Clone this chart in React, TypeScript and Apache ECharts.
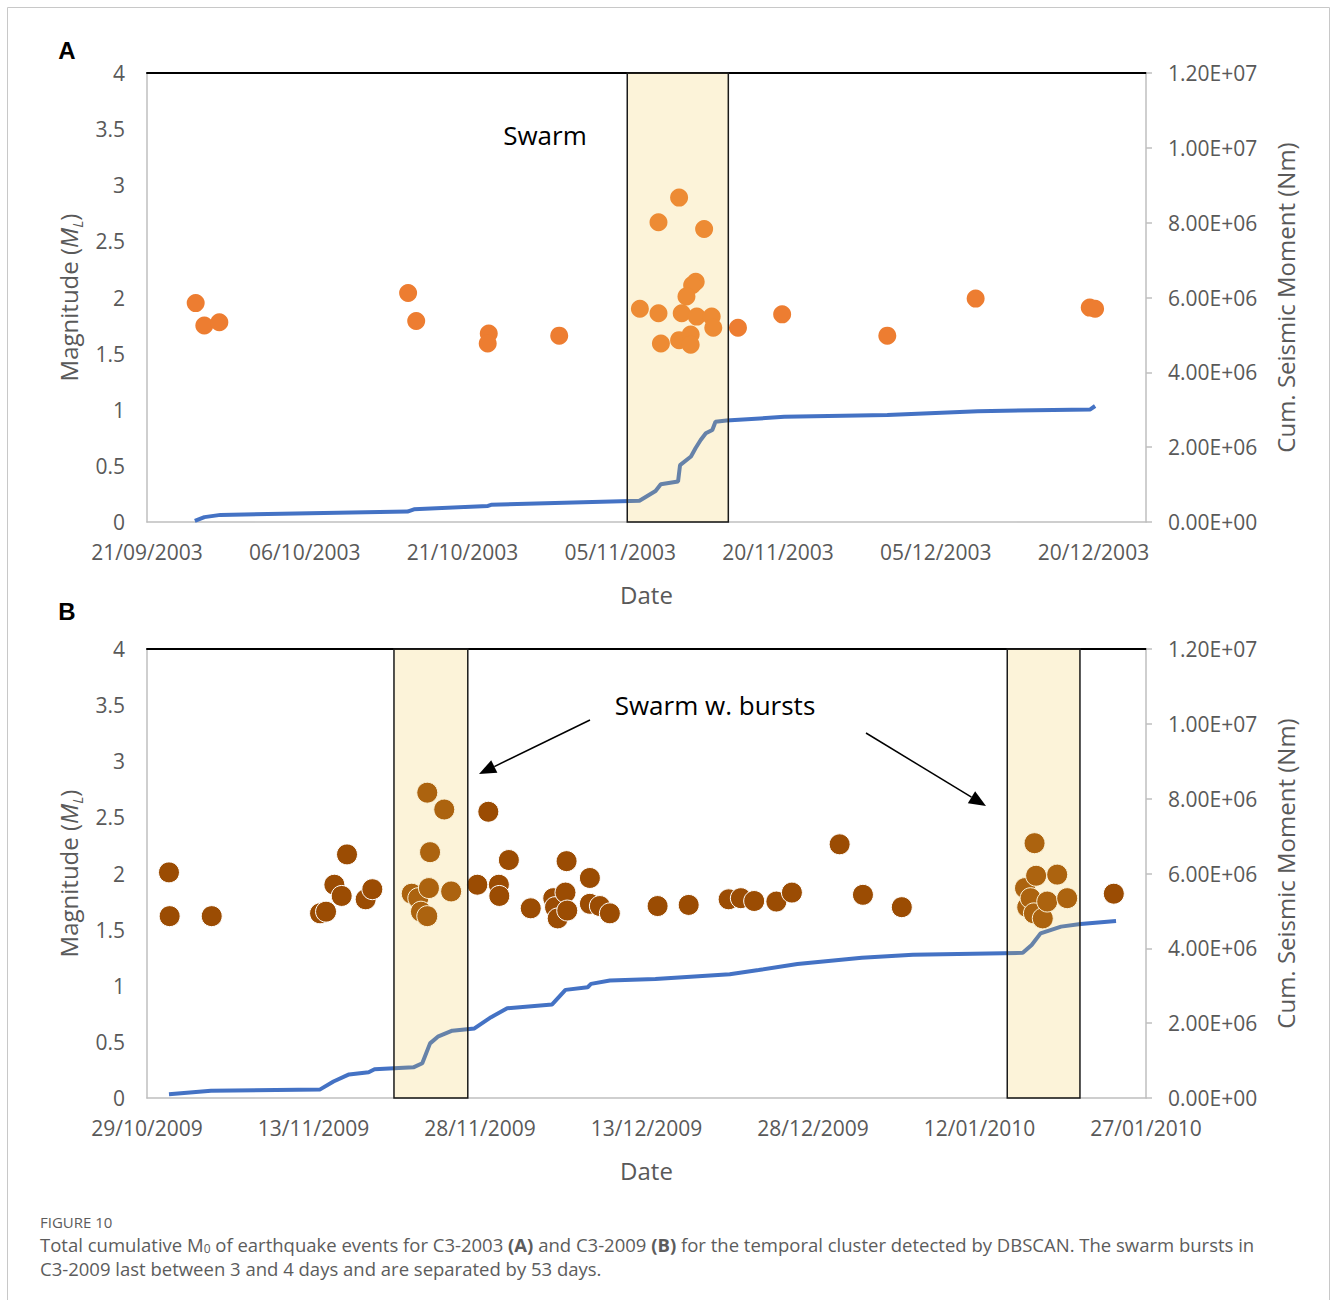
import React, { useEffect, useRef } from 'react';
import * as echarts from 'echarts';

// ---------- Panel A (C3-2003): days since 21/09/2003 ----------
const aStartUTC = Date.UTC(2003, 8, 21);
const aAxisMaxDays = 95;
const aEventDays = [4.63, 5.45, 6.88, 24.83, 25.6, 32.5, 32.4, 39.2, 46.87, 50.6, 48.64, 52.98, 52.18, 51.84, 51.3, 48.64, 50.85, 52.28, 53.7, 53.85, 48.87, 50.6, 51.7, 51.7, 56.2, 60.4, 70.4, 78.8, 89.65, 90.16];
const aEventMag = [1.95, 1.75, 1.78, 2.04, 1.79, 1.68, 1.59, 1.66, 1.9, 2.89, 2.67, 2.61, 2.14, 2.11, 2.01, 1.86, 1.86, 1.83, 1.83, 1.73, 1.59, 1.62, 1.67, 1.58, 1.73, 1.85, 1.66, 1.99, 1.91, 1.9];
const aCumDays = [4.55, 5.46, 6.99, 24.77, 25.39, 32.42, 32.72, 46.83, 48.36, 48.86, 50.5, 50.69, 51.73, 52.16, 52.65, 53.14, 53.76, 54.06, 55.1, 60.6, 70.4, 79.0, 89.7, 90.16];
const aCumMoment = [0.03e6, 0.13e6, 0.19e6, 0.28e6, 0.34e6, 0.43e6, 0.46e6, 0.57e6, 0.83e6, 1.01e6, 1.08e6, 1.52e6, 1.75e6, 1.97e6, 2.19e6, 2.37e6, 2.46e6, 2.68e6, 2.71e6, 2.81e6, 2.86e6, 2.96e6, 3.01e6, 3.1e6];
const aSwarmWindows = [[45.67, 55.28]];

// ---------- Panel B (C3-2009): days since 29/10/2009 ----------
const bStartUTC = Date.UTC(2009, 9, 29);
const bAxisMaxDays = 90;
const bEventDays = [1.98, 2.04, 5.83, 15.59, 16.13, 16.88, 17.54, 18.02, 19.7, 20.3, 23.85, 24.44, 24.68, 25.25, 25.4, 25.25, 25.5, 26.78, 27.4, 29.76, 30.75, 31.7, 31.74, 32.6, 34.57, 36.6, 36.76, 37.0, 37.7, 37.8, 37.86, 39.9, 39.9, 40.8, 41.7, 46.0, 48.8, 52.4, 53.5, 54.7, 56.7, 58.1, 62.4, 64.5, 68.0, 79.1, 79.3, 79.6, 79.9, 79.96, 80.1, 80.7, 81.1, 82.0, 82.9, 87.1];
const bEventMag = [2.01, 1.62, 1.62, 1.645, 1.66, 1.9, 1.8, 2.17, 1.77, 1.86, 1.82, 1.78, 1.66, 1.62, 1.87, 2.72, 2.19, 2.57, 1.84, 1.9, 2.55, 1.9, 1.8, 2.12, 1.69, 1.78, 1.7, 1.6, 1.83, 2.11, 1.67, 1.96, 1.73, 1.71, 1.645, 1.71, 1.72, 1.77, 1.78, 1.755, 1.75, 1.83, 2.26, 1.81, 1.7, 1.87, 1.7, 1.78, 1.645, 2.27, 1.98, 1.6, 1.75, 1.99, 1.78, 1.82];
const bCumDays = [1.98, 5.76, 15.6, 16.8, 18.2, 19.97, 20.5, 24.0, 24.8, 25.5, 26.2, 27.5, 29.5, 31.0, 32.45, 36.5, 37.7, 39.7, 40.0, 41.7, 45.8, 52.5, 55.1, 58.6, 64.4, 69.0, 78.9, 79.7, 80.5, 82.35, 84.1, 87.3];
const bCumMoment = [0.1e6, 0.195e6, 0.23e6, 0.44e6, 0.63e6, 0.69e6, 0.77e6, 0.82e6, 0.93e6, 1.46e6, 1.64e6, 1.8e6, 1.86e6, 2.16e6, 2.4e6, 2.5e6, 2.89e6, 2.96e6, 3.05e6, 3.14e6, 3.18e6, 3.31e6, 3.42e6, 3.58e6, 3.75e6, 3.83e6, 3.88e6, 4.09e6, 4.4e6, 4.58e6, 4.65e6, 4.73e6];
const bSwarmWindows = [[22.25, 28.9], [77.5, 84.05]];

// ---------- Axis ticks ----------
const magMin = 0;
const magMax = 4;
const magInterval = 0.5;
const momentMin = 0;
const momentMax = 1.2e7;
const momentInterval = 2e6;
const dateInterval = 15;

const FONT = "'Open Sans', 'Noto Sans', sans-serif";
const GREY = '#595959';
const AXIS_GREY = '#bfbfbf';
const TICK_FS = 21;
const NAME_FS = 24;

const pad2 = (n: number) => String(n).padStart(2, '0');
const dateFormatter = (base: number) => (v: number) => {
  if (Math.abs(v % dateInterval) > 1e-6) return '';
  const d = new Date(base + Math.round(v) * 86400000);
  return `${pad2(d.getUTCDate())}/${pad2(d.getUTCMonth() + 1)}/${d.getUTCFullYear()}`;
};
const expFormatter = (v: number) => {
  const [m, e] = v.toExponential(2).split('e');
  const sign = e[0] === '-' ? '-' : '+';
  const num = e.replace(/[+-]/, '').padStart(2, '0');
  return `${m}E${sign}${num}`;
};

const zip = (xs: number[], ys: number[]) => xs.map((x, i) => [x, ys[i]]);

function arrow(x1: number, y1: number, x2: number, y2: number) {
  const len = Math.hypot(x2 - x1, y2 - y1);
  const ux = (x2 - x1) / len;
  const uy = (y2 - y1) / len;
  const head = 17;
  const half = 7;
  const bx = x2 - ux * head;
  const by = y2 - uy * head;
  return [
    { type: 'line', shape: { x1, y1, x2: bx, y2: by }, style: { stroke: '#000', lineWidth: 1.5 } },
    {
      type: 'polygon',
      shape: { points: [[x2, y2], [bx - uy * half, by + ux * half], [bx + uy * half, by - ux * half]] },
      style: { fill: '#000' },
    },
  ];
}

export default function App() {
  const ref = useRef<HTMLDivElement>(null);
  useEffect(() => {
    document.body.style.margin = '0';
    if (!ref.current) return;
    const chart = echarts.init(ref.current, undefined, { renderer: 'svg' });

    const xBottom = (grid: number, max: number, base: number) => ({
      type: 'value',
      gridIndex: grid,
      position: 'bottom',
      min: 0,
      max,
      interval: dateInterval,
      axisLine: { show: true, onZero: false, lineStyle: { color: AXIS_GREY, width: 1.5 } },
      axisTick: { show: false },
      splitLine: { show: false },
      axisLabel: { formatter: dateFormatter(base), color: GREY, fontSize: TICK_FS, fontFamily: FONT, margin: 19 },
      name: 'Date',
      nameLocation: 'middle',
      nameGap: 60,
      nameTextStyle: { color: GREY, fontSize: NAME_FS, fontFamily: FONT },
    });
    const xTop = (grid: number, max: number) => ({
      type: 'value',
      gridIndex: grid,
      position: 'top',
      min: 0,
      max,
      axisLine: { show: true, onZero: false, lineStyle: { color: '#000', width: 2 } },
      axisTick: { show: false },
      axisLabel: { show: false },
      splitLine: { show: false },
    });
    const magRich = {
      t: { fontSize: NAME_FS, color: GREY, fontFamily: FONT, lineHeight: 32 },
      i: { fontSize: NAME_FS, color: GREY, fontFamily: FONT, fontStyle: 'italic', lineHeight: 32 },
      s: { fontSize: 15, color: GREY, fontFamily: FONT, fontStyle: 'italic', lineHeight: 11, verticalAlign: 'bottom' },
    };
    const yLeft = (grid: number) => ({
      type: 'value',
      gridIndex: grid,
      position: 'left',
      min: magMin,
      max: magMax,
      interval: magInterval,
      axisLine: { show: true, onZero: false, lineStyle: { color: AXIS_GREY, width: 1.5 } },
      axisTick: { show: false },
      splitLine: { show: false },
      axisLabel: { color: GREY, fontSize: TICK_FS, fontFamily: FONT, margin: 22 },
      name: '{t|Magnitude (}{i|M}{s|L}{t|)}',
      nameLocation: 'middle',
      nameRotate: 90,
      nameGap: 63,
      nameTextStyle: { fontSize: NAME_FS, color: GREY, fontFamily: FONT, rich: magRich },
    });
    const yRight = (grid: number) => ({
      type: 'value',
      gridIndex: grid,
      position: 'right',
      min: momentMin,
      max: momentMax,
      interval: momentInterval,
      axisLine: { show: true, onZero: false, lineStyle: { color: AXIS_GREY, width: 1.5 } },
      axisTick: { show: true, inside: false, length: 6, lineStyle: { color: AXIS_GREY, width: 1.5 } },
      splitLine: { show: false },
      axisLabel: { formatter: expFormatter, color: GREY, fontSize: TICK_FS, fontFamily: FONT, margin: 22 },
      name: 'Cum. Seismic Moment (Nm)',
      nameLocation: 'middle',
      nameRotate: 90,
      nameGap: 127,
      nameTextStyle: { fontSize: NAME_FS, color: GREY, fontFamily: FONT },
    });
    const swarmArea = (windows: number[][]) => ({
      silent: true,
      z: 5,
      itemStyle: { color: 'rgba(240,195,65,0.2)', borderColor: '#1a1a1a', borderWidth: 1.5 },
      label: { show: false },
      data: windows.map(([a, b]) => [{ xAxis: a }, { xAxis: b }]),
    });

    const CAP_FONT = "'Open Sans', 'Noto Sans', sans-serif";
    const CAP_FS = 18.5;
    const captionRich = {
      n: { fontSize: CAP_FS, color: '#5c5c5c', fontFamily: CAP_FONT, lineHeight: 20 },
      b: { fontSize: CAP_FS, color: '#444', fontWeight: 'bold', fontFamily: CAP_FONT, lineHeight: 20 },
      sub: { fontSize: 12, color: '#5c5c5c', fontFamily: CAP_FONT, lineHeight: 12, verticalAlign: 'bottom' },
    };

    chart.setOption({
      animation: false,
      grid: [
        { left: 147, top: 73, width: 999, height: 449 },
        { left: 147, top: 649, width: 999, height: 449 },
      ],
      xAxis: [
        xBottom(0, aAxisMaxDays, aStartUTC),
        xTop(0, aAxisMaxDays),
        xBottom(1, bAxisMaxDays, bStartUTC),
        xTop(1, bAxisMaxDays),
      ],
      yAxis: [yLeft(0), yRight(0), yLeft(1), yRight(1)],
      series: [
        {
          type: 'scatter',
          xAxisIndex: 0,
          yAxisIndex: 0,
          data: zip(aEventDays, aEventMag),
          symbolSize: 18,
          itemStyle: { color: '#ed7d31', opacity: 1 },
        },
        {
          type: 'line',
          xAxisIndex: 0,
          yAxisIndex: 1,
          data: zip(aCumDays, aCumMoment),
          showSymbol: false,
          lineStyle: { color: '#4472c4', width: 4 },
          markArea: swarmArea(aSwarmWindows),
        },
        {
          type: 'scatter',
          xAxisIndex: 2,
          yAxisIndex: 2,
          data: zip(bEventDays, bEventMag),
          symbolSize: 21,
          itemStyle: { color: '#9b4c03', borderColor: '#fff', borderWidth: 1, opacity: 1 },
        },
        {
          type: 'line',
          xAxisIndex: 2,
          yAxisIndex: 3,
          data: zip(bCumDays, bCumMoment),
          showSymbol: false,
          lineStyle: { color: '#4472c4', width: 4 },
          markArea: swarmArea(bSwarmWindows),
        },
      ],
      graphic: [
        { type: 'rect', z: 0, shape: { x: 7.5, y: 7.5, width: 1322, height: 1310 }, style: { fill: 'none', stroke: '#c8c8c8', lineWidth: 1 } },
        { type: 'text', x: 67, y: 50, style: { text: 'A', font: "bold 24px 'Liberation Sans', Arial, sans-serif", fill: '#000', textAlign: 'center', textVerticalAlign: 'middle' } },
        { type: 'text', x: 67, y: 611, style: { text: 'B', font: "bold 24px 'Liberation Sans', Arial, sans-serif", fill: '#000', textAlign: 'center', textVerticalAlign: 'middle' } },
        { type: 'text', x: 545, y: 135, z: 10, style: { text: 'Swarm', font: `26px ${FONT}`, fill: '#000', textAlign: 'center', textVerticalAlign: 'middle' } },
        { type: 'text', x: 715, y: 705, z: 10, style: { text: 'Swarm w. bursts', font: `26px ${FONT}`, fill: '#000', textAlign: 'center', textVerticalAlign: 'middle' } },
        ...arrow(590, 720, 479, 774),
        ...arrow(866, 733, 986, 806),
        { type: 'text', x: 40, y: 1222, style: { text: 'FIGURE 10', font: `15px ${CAP_FONT}`, fill: '#5c5c5c', textVerticalAlign: 'middle' } },
        {
          type: 'text',
          x: 40,
          y: 1244,
          style: {
            text:
              '{n|Total cumulative M}{sub|0}{n| of earthquake events for C3-2003 }{b|(A)}{n| and C3-2009 }{b|(B)}{n| for the temporal cluster detected by DBSCAN. The swarm bursts in}',
            rich: captionRich,
            fill: '#5c5c5c',
            textVerticalAlign: 'middle',
          },
        },
        {
          type: 'text',
          x: 40,
          y: 1268,
          style: {
            text: 'C3-2009 last between 3 and 4 days and are separated by 53 days.',
            font: `${CAP_FS}px ${CAP_FONT}`,
            fill: '#5c5c5c',
            textVerticalAlign: 'middle',
          },
        },
      ],
    });
    return () => chart.dispose();
  }, []);
  return <div ref={ref} style={{ width: 1331, height: 1300 }} />;
}
